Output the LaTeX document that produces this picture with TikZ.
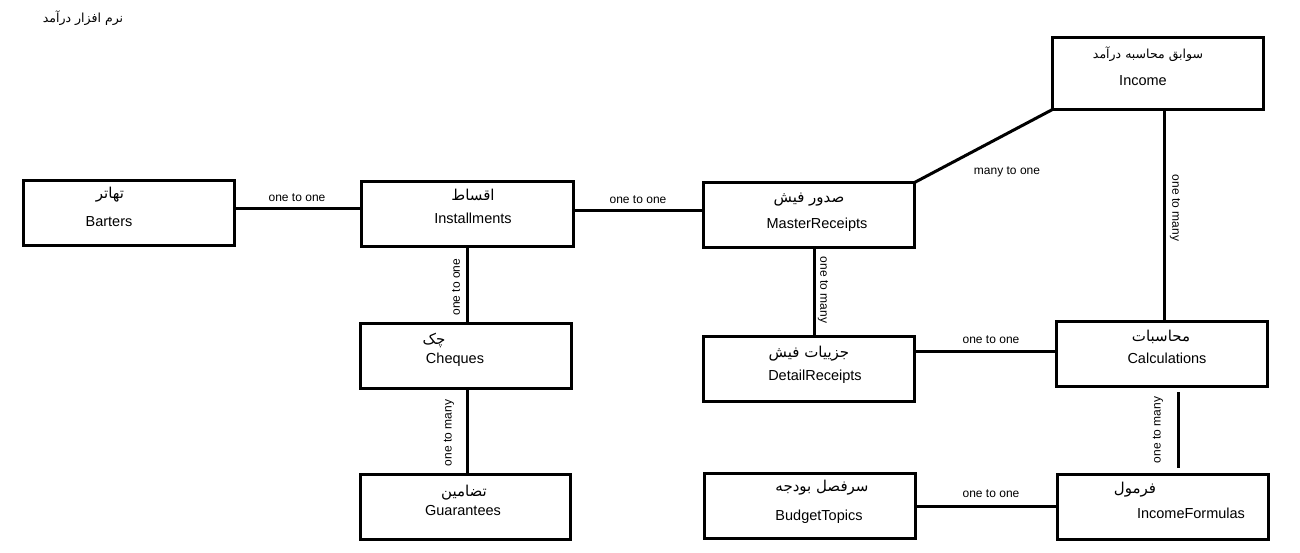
\documentclass[tikz,border=0pt]{standalone}
\usepackage{fontspec}
\setmainfont{Liberation Sans}
\newfontfamily\fafont[Script=Arabic]{DejaVu Sans}
\TeXXeTstate=1
\newcommand{\fa}[1]{{\fafont\beginR #1\endR}}

\begin{document}
\begin{tikzpicture}[x=1pt,y=-1pt,
  entity/.style={draw,line width=3pt,inner sep=0pt,outer sep=0pt},
  link/.style={line width=3pt},
  entxt/.style={font=\fontsize{14.5}{17}\selectfont,inner sep=0pt},
  fatxt/.style={font=\fontsize{15}{18}\fafont,inner sep=0pt,yshift=-2pt},
  titletxt/.style={font=\fontsize{12.5}{15}\fafont,inner sep=0pt},
  rel/.style={font=\fontsize{12}{14}\selectfont,inner sep=0pt}]

\fill[white] (0,0) rectangle (1300,553);
\useasboundingbox (0,0) rectangle (1300,553);

% title
\node[titletxt] (title) at (83,18) {\fa{نرم افزار درآمد}};

% entity boxes
\node[entity,minimum width=211pt,minimum height=65pt] (bart) at (129,213) {};
\node[entity,minimum width=212pt,minimum height=65pt] (inst) at (467.5,214) {};
\node[entity,minimum width=211pt,minimum height=65pt] (mast) at (809,215) {};
\node[entity,minimum width=211pt,minimum height=72pt] (inc)  at (1158,73.5) {};
\node[entity,minimum width=211pt,minimum height=65pt] (cheq) at (466,356) {};
\node[entity,minimum width=210pt,minimum height=65pt] (guar) at (465.5,507) {};
\node[entity,minimum width=211pt,minimum height=65pt] (det)  at (809,369) {};
\node[entity,minimum width=211pt,minimum height=65pt] (calc) at (1162,354) {};
\node[entity,minimum width=211pt,minimum height=65pt] (bud)  at (810,506) {};
\node[entity,minimum width=211pt,minimum height=65pt] (form) at (1163,507) {};

% box captions
\node[fatxt] (bart-fa) at (110,193) {\fa{تهاتر}};
\node[entxt] (bart-en) at (109,222) {Barters};
\node[fatxt] (inst-fa) at (473,193) {\fa{اقساط}};
\node[entxt] (inst-en) at (473,218) {Installments};
\node[fatxt] (mast-fa) at (809,198) {\fa{صدور فیش}};
\node[entxt] (mast-en) at (817,225) {MasterReceipts};
\node[titletxt] (inc-fa) at (1148,54) {\fa{سوابق محاسبه درآمد}};
\node[entxt] (inc-en) at (1143,81) {Income};
\node[fatxt] (cheq-fa) at (434,338) {\fa{چک}};
\node[entxt] (cheq-en) at (455,360) {Cheques};
\node[fatxt] (guar-fa) at (464,491) {\fa{تضامین}};
\node[entxt] (guar-en) at (463,511) {Guarantees};
\node[fatxt] (det-fa) at (809,352) {\fa{جزییات فیش}};
\node[entxt] (det-en) at (815,377) {DetailReceipts};
\node[fatxt] (calc-fa) at (1161,335) {\fa{محاسبات}};
\node[entxt] (calc-en) at (1167,358) {Calculations};
\node[fatxt] (bud-fa) at (822,486) {\fa{سرفصل بودجه}};
\node[entxt] (bud-en) at (819,517) {BudgetTopics};
\node[fatxt] (form-fa) at (1135,488) {\fa{فرمول}};
\node[entxt] (form-en) at (1191,513) {IncomeFormulas};

% relationships
\draw[link] ([yshift=4pt]bart.east) -- ([yshift=4pt]bart.east -| inst.west);
\node[rel] (r1) at (297,198) {one to one};

\draw[link] ([yshift=3pt]inst.east) -- ([yshift=3pt]inst.east -| mast.west);
\node[rel] (r2) at (638,200) {one to one};

\draw[link] (mast.north east) -- (inc.south west);
\node[rel] (r3) at (1007,172) {many to one};

\draw[link] (inst.south) -- (inst.south |- cheq.north);
\node[rel,rotate=90] (r4) at (456,287) {one to one};

\draw[link] ([xshift=1pt]cheq.south) -- ([xshift=1pt]cheq.south |- guar.north);
\node[rel,rotate=90] (r5) at (449,433) {one to many};

\draw[link] ([xshift=5pt]mast.south) -- ([xshift=5pt]mast.south |- det.north);
\node[rel,rotate=-90] (r6) at (823,290) {one to many};

\draw[link] ([xshift=6pt]inc.south) -- ([xshift=6pt]inc.south |- calc.north);
\node[rel,rotate=-90] (r7) at (1175,208) {one to many};

\draw[link] ([yshift=18pt]det.east) -- ([yshift=18pt]det.east -| calc.west);
\node[rel] (r8) at (991,340) {one to one};

\coordinate (cf-top) at (1178,392);
\coordinate (cf-bot) at (1178,468);
\draw[link] (cf-top) -- (cf-bot);
\node[rel,rotate=90] (r9) at (1158,430) {one to many};

\draw[link] (bud.east) -- (bud.east -| form.west);
\node[rel] (r10) at (991,494) {one to one};

\end{tikzpicture}
\end{document}
